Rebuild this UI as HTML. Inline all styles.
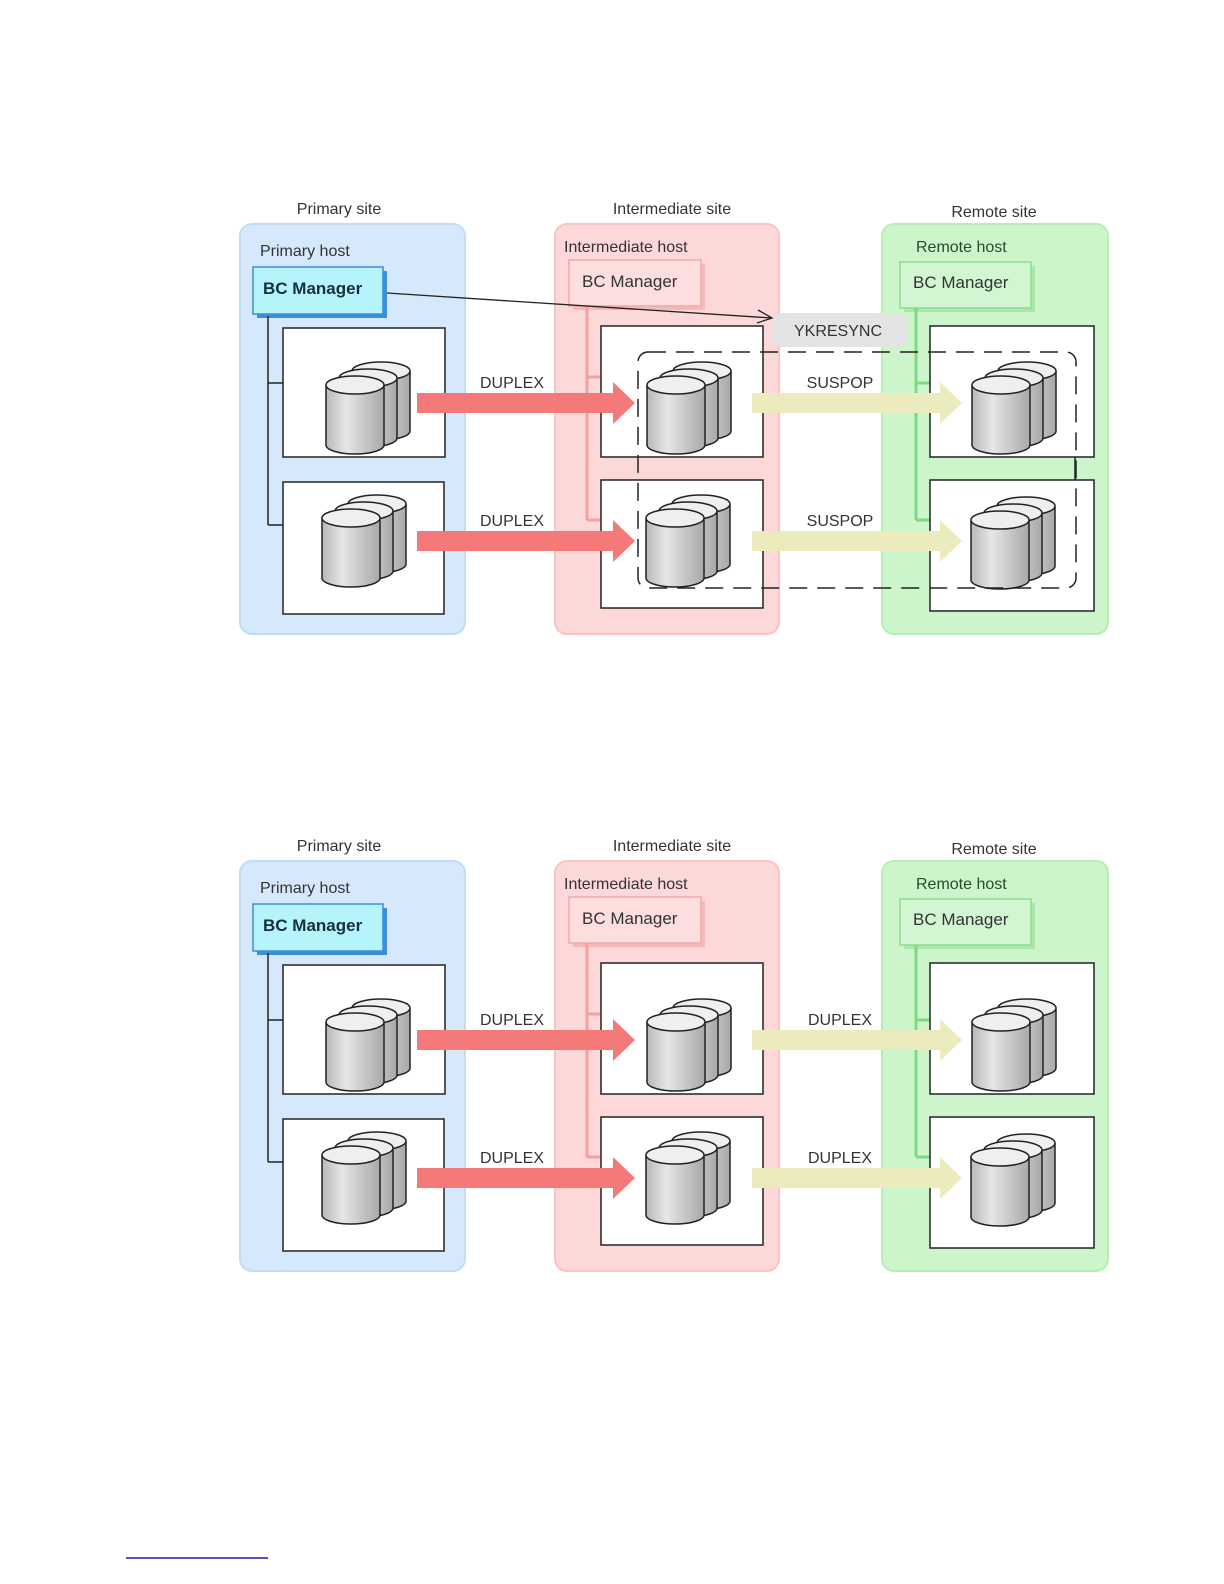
<!DOCTYPE html>
<html><head><meta charset="utf-8"><style>
html,body{margin:0;padding:0;background:#fff;width:1224px;height:1584px;overflow:hidden;}
svg{position:absolute;left:0;top:0;display:block;font-family:"Liberation Sans",Arial,sans-serif;}
</style></head><body>
<svg width="1224" height="1584" viewBox="0 0 1224 1584" xmlns="http://www.w3.org/2000/svg">
<defs>
<linearGradient id="cg" x1="0" x2="1" y1="0" y2="0">
<stop offset="0" stop-color="#b8b8b8"/><stop offset="0.35" stop-color="#e6e6e6"/><stop offset="1" stop-color="#a8a8a8"/>
</linearGradient>
<g id="cyl">
<path d="M0,0 v60 a29,9 0 0 0 58,0 v-60" fill="url(#cg)" stroke="#222" stroke-width="1.5"/>
<ellipse cx="29" cy="0" rx="29" ry="9" fill="#efefef" stroke="#222" stroke-width="1.5"/>
</g>
<g id="stack">
<use href="#cyl" x="26" y="-14"/>
<use href="#cyl" x="13" y="-7"/>
<use href="#cyl" x="0" y="0"/>
</g>
<g id="red"><path d="M0,-10 h196 v-11 l22,21 -22,21 v-11 h-196 z" fill="#f47a7a"/></g>
<g id="yel"><path d="M0,-10 h188 v-11 l22,21 -22,21 v-11 h-188 z" fill="#ecebbd"/></g>
</defs>

<!-- ================= DIAGRAM 1 ================= -->
<g>
<text x="339" y="214" font-size="16" text-anchor="middle" fill="#333">Primary site</text>
<text x="672" y="214" font-size="16" text-anchor="middle" fill="#333">Intermediate site</text>
<text x="994" y="217" font-size="16" text-anchor="middle" fill="#333">Remote site</text>

<rect x="240" y="224" width="225" height="410" rx="12" fill="#d6e8fb" stroke="#c2dcf6" stroke-width="2"/>
<rect x="555" y="224" width="224" height="410" rx="12" fill="#fcd8d8" stroke="#f8c4c4" stroke-width="2"/>
<rect x="882" y="224" width="226" height="410" rx="12" fill="#ccf5cc" stroke="#b6eeb6" stroke-width="2"/>

<text x="260" y="256" font-size="16" fill="#333">Primary host</text>
<text x="564" y="252" font-size="16" fill="#333">Intermediate host</text>
<text x="916" y="252" font-size="16" fill="#2a4a2a">Remote host</text>

<rect x="257" y="271" width="130" height="47" fill="#3b8fd8"/>
<rect x="253" y="267" width="130" height="47" fill="#b5f4fb" stroke="#3b8fd8" stroke-width="1.5"/>
<text x="263" y="294" font-size="17" font-weight="bold" fill="#163040">BC Manager</text>
<rect x="573" y="264" width="132" height="46" fill="#f7b8b8"/>
<rect x="569" y="260" width="132" height="46" fill="#fcdede" stroke="#f4a8a8" stroke-width="1.5"/>
<text x="582" y="287" font-size="17" fill="#333">BC Manager</text>
<rect x="904" y="266" width="131" height="46" fill="#a8e8a8"/>
<rect x="900" y="262" width="131" height="46" fill="#d2f6d2" stroke="#8fdc8f" stroke-width="1.5"/>
<text x="913" y="288" font-size="17" fill="#333">BC Manager</text>

<path d="M268,316 V525 M268,383 H283 M268,525 H283" stroke="#222" stroke-width="1.5" fill="none"/>
<path d="M587,306 V520 M587,377 H601 M587,520 H601" stroke="#f4a0a0" stroke-width="3" fill="none"/>
<path d="M916,308 V520 M916,383 H930 M916,520 H930" stroke="#80d880" stroke-width="3" fill="none"/>

<rect x="283" y="328" width="162" height="129" fill="#fff" stroke="#222" stroke-width="1.5"/>
<rect x="283" y="482" width="161" height="132" fill="#fff" stroke="#222" stroke-width="1.5"/>
<rect x="601" y="326" width="162" height="131" fill="#fff" stroke="#222" stroke-width="1.5"/>
<rect x="601" y="480" width="162" height="128" fill="#fff" stroke="#222" stroke-width="1.5"/>
<rect x="930" y="326" width="164" height="131" fill="#fff" stroke="#222" stroke-width="1.5"/>
<rect x="930" y="480" width="164" height="131" fill="#fff" stroke="#222" stroke-width="1.5"/>

<use href="#stack" x="326" y="385"/>
<use href="#stack" x="322" y="518"/>
<use href="#stack" x="647" y="385"/>
<use href="#stack" x="646" y="518"/>
<use href="#stack" x="972" y="385"/>
<use href="#stack" x="971" y="520"/>

<use href="#red" x="417" y="403"/>
<use href="#red" x="417" y="541"/>
<use href="#yel" x="752" y="403"/>
<use href="#yel" x="752" y="541"/>

<text x="512" y="388" font-size="16" text-anchor="middle" fill="#333">DUPLEX</text>
<text x="512" y="526" font-size="16" text-anchor="middle" fill="#333">DUPLEX</text>
<text x="840" y="388" font-size="16" text-anchor="middle" fill="#333">SUSPOP</text>
<text x="840" y="526" font-size="16" text-anchor="middle" fill="#333">SUSPOP</text>

<rect x="638" y="352" width="438" height="236" rx="10" fill="none" stroke="#222" stroke-width="1.5" stroke-dasharray="18,10"/>
<line x1="1075" y1="457" x2="1075" y2="480" stroke="#222" stroke-width="1.5"/>

<rect x="772" y="313" width="136" height="34" rx="10" fill="#e4e4e4"/>
<text x="838" y="336" font-size="16" text-anchor="middle" fill="#333">YKRESYNC</text>
<line x1="387" y1="293" x2="772" y2="318" stroke="#222" stroke-width="1.3"/>
<path d="M758,310 L772,318 L757,323" fill="none" stroke="#222" stroke-width="1.3"/>
</g>

<!-- ================= DIAGRAM 2 ================= -->
<g transform="translate(0,637)">
<text x="339" y="214" font-size="16" text-anchor="middle" fill="#333">Primary site</text>
<text x="672" y="214" font-size="16" text-anchor="middle" fill="#333">Intermediate site</text>
<text x="994" y="217" font-size="16" text-anchor="middle" fill="#333">Remote site</text>

<rect x="240" y="224" width="225" height="410" rx="12" fill="#d6e8fb" stroke="#c2dcf6" stroke-width="2"/>
<rect x="555" y="224" width="224" height="410" rx="12" fill="#fcd8d8" stroke="#f8c4c4" stroke-width="2"/>
<rect x="882" y="224" width="226" height="410" rx="12" fill="#ccf5cc" stroke="#b6eeb6" stroke-width="2"/>

<text x="260" y="256" font-size="16" fill="#333">Primary host</text>
<text x="564" y="252" font-size="16" fill="#333">Intermediate host</text>
<text x="916" y="252" font-size="16" fill="#2a4a2a">Remote host</text>

<rect x="257" y="271" width="130" height="47" fill="#3b8fd8"/>
<rect x="253" y="267" width="130" height="47" fill="#b5f4fb" stroke="#3b8fd8" stroke-width="1.5"/>
<text x="263" y="294" font-size="17" font-weight="bold" fill="#163040">BC Manager</text>
<rect x="573" y="264" width="132" height="46" fill="#f7b8b8"/>
<rect x="569" y="260" width="132" height="46" fill="#fcdede" stroke="#f4a8a8" stroke-width="1.5"/>
<text x="582" y="287" font-size="17" fill="#333">BC Manager</text>
<rect x="904" y="266" width="131" height="46" fill="#a8e8a8"/>
<rect x="900" y="262" width="131" height="46" fill="#d2f6d2" stroke="#8fdc8f" stroke-width="1.5"/>
<text x="913" y="288" font-size="17" fill="#333">BC Manager</text>

<path d="M268,316 V525 M268,383 H283 M268,525 H283" stroke="#222" stroke-width="1.5" fill="none"/>
<path d="M587,306 V520 M587,377 H601 M587,520 H601" stroke="#f4a0a0" stroke-width="3" fill="none"/>
<path d="M916,308 V520 M916,383 H930 M916,520 H930" stroke="#80d880" stroke-width="3" fill="none"/>

<rect x="283" y="328" width="162" height="129" fill="#fff" stroke="#222" stroke-width="1.5"/>
<rect x="283" y="482" width="161" height="132" fill="#fff" stroke="#222" stroke-width="1.5"/>
<rect x="601" y="326" width="162" height="131" fill="#fff" stroke="#222" stroke-width="1.5"/>
<rect x="601" y="480" width="162" height="128" fill="#fff" stroke="#222" stroke-width="1.5"/>
<rect x="930" y="326" width="164" height="131" fill="#fff" stroke="#222" stroke-width="1.5"/>
<rect x="930" y="480" width="164" height="131" fill="#fff" stroke="#222" stroke-width="1.5"/>

<use href="#stack" x="326" y="385"/>
<use href="#stack" x="322" y="518"/>
<use href="#stack" x="647" y="385"/>
<use href="#stack" x="646" y="518"/>
<use href="#stack" x="972" y="385"/>
<use href="#stack" x="971" y="520"/>

<use href="#red" x="417" y="403"/>
<use href="#red" x="417" y="541"/>
<use href="#yel" x="752" y="403"/>
<use href="#yel" x="752" y="541"/>

<text x="512" y="388" font-size="16" text-anchor="middle" fill="#333">DUPLEX</text>
<text x="512" y="526" font-size="16" text-anchor="middle" fill="#333">DUPLEX</text>
<text x="840" y="388" font-size="16" text-anchor="middle" fill="#333">DUPLEX</text>
<text x="840" y="526" font-size="16" text-anchor="middle" fill="#333">DUPLEX</text>
</g>

<line x1="126" y1="1558" x2="268" y2="1558" stroke="#1a1aa0" stroke-width="1.5"/>
</svg>
</body></html>
